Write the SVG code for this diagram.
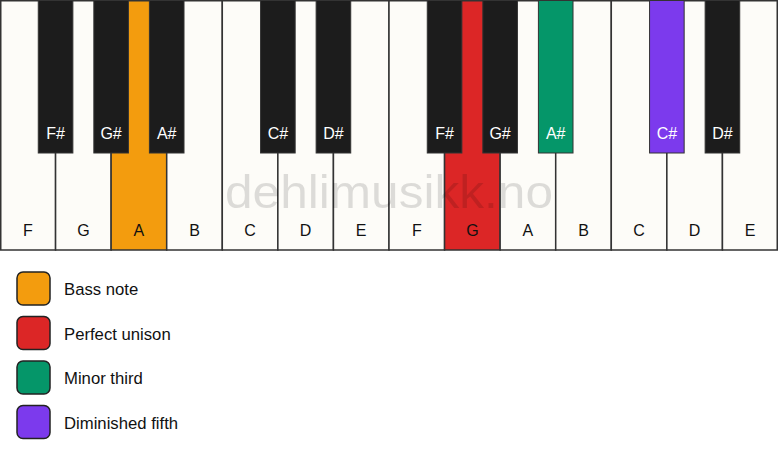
<svg xmlns="http://www.w3.org/2000/svg" width="778" height="461" viewBox="0 0 778 461">
<style>
.w{fill:#fdfcf8;stroke:#333;stroke-width:1.5}
.b{fill:#1c1c1c;stroke:#333;stroke-width:1}
.lw{font-family:"Liberation Sans",Arial,sans-serif;font-size:16px;fill:#111;text-anchor:middle}
.lb{font-family:"Liberation Sans",Arial,sans-serif;font-size:16px;fill:#fff;text-anchor:middle}
.lg{font-family:"Liberation Sans",Arial,sans-serif;font-size:16.7px;fill:#111}
.sq{stroke:#222;stroke-width:1.5}
</style>
<rect x="0" y="0" width="778" height="461" fill="#ffffff"/>
<g id="white-keys">
<rect class="w" x="0.75" y="0.75" width="54.82" height="249.25"/>
<rect class="w" x="55.57" y="0.75" width="55.57" height="249.25"/>
<rect class="w" x="111.14" y="0.75" width="55.57" height="249.25" style="fill:#f39c0e"/>
<rect class="w" x="166.71" y="0.75" width="55.57" height="249.25"/>
<rect class="w" x="222.29" y="0.75" width="55.57" height="249.25"/>
<rect class="w" x="277.86" y="0.75" width="55.57" height="249.25"/>
<rect class="w" x="333.43" y="0.75" width="55.57" height="249.25"/>
<rect class="w" x="389" y="0.75" width="55.57" height="249.25"/>
<rect class="w" x="444.57" y="0.75" width="55.57" height="249.25" style="fill:#dc2626"/>
<rect class="w" x="500.14" y="0.75" width="55.57" height="249.25"/>
<rect class="w" x="555.71" y="0.75" width="55.57" height="249.25"/>
<rect class="w" x="611.29" y="0.75" width="55.57" height="249.25"/>
<rect class="w" x="666.86" y="0.75" width="55.57" height="249.25"/>
<rect class="w" x="722.43" y="0.75" width="54.82" height="249.25"/>
</g>
<g id="white-labels">
<text class="lw" x="27.8" y="236">F</text>
<text class="lw" x="83.4" y="236">G</text>
<text class="lw" x="138.9" y="236">A</text>
<text class="lw" x="194.5" y="236">B</text>
<text class="lw" x="250.1" y="236">C</text>
<text class="lw" x="305.6" y="236">D</text>
<text class="lw" x="361.2" y="236">E</text>
<text class="lw" x="416.8" y="236">F</text>
<text class="lw" x="472.4" y="236">G</text>
<text class="lw" x="527.9" y="236">A</text>
<text class="lw" x="583.5" y="236">B</text>
<text class="lw" x="639.1" y="236">C</text>
<text class="lw" x="694.6" y="236">D</text>
<text class="lw" x="750.2" y="236">E</text>
</g>
<g id="black-keys">
<rect class="b" x="38.27" y="0.5" width="34.6" height="152.5"/>
<rect class="b" x="93.84" y="0.5" width="34.6" height="152.5"/>
<rect class="b" x="149.41" y="0.5" width="34.6" height="152.5"/>
<rect class="b" x="260.56" y="0.5" width="34.6" height="152.5"/>
<rect class="b" x="316.13" y="0.5" width="34.6" height="152.5"/>
<rect class="b" x="427.27" y="0.5" width="34.6" height="152.5"/>
<rect class="b" x="482.84" y="0.5" width="34.6" height="152.5"/>
<rect class="b" x="538.41" y="0.5" width="34.6" height="152.5" style="fill:#059669"/>
<rect class="b" x="649.56" y="0.5" width="34.6" height="152.5" style="fill:#7c3aed"/>
<rect class="b" x="705.13" y="0.5" width="34.6" height="152.5"/>
</g>
<g id="black-labels">
<text class="lb" x="55.6" y="139">F#</text>
<text class="lb" x="111.1" y="139">G#</text>
<text class="lb" x="166.7" y="139">A#</text>
<text class="lb" x="277.9" y="139">C#</text>
<text class="lb" x="333.4" y="139">D#</text>
<text class="lb" x="444.6" y="139">F#</text>
<text class="lb" x="500.1" y="139">G#</text>
<text class="lb" x="555.7" y="139">A#</text>
<text class="lb" x="666.9" y="139">C#</text>
<text class="lb" x="722.4" y="139">D#</text>
</g>
<text id="watermark" x="389" y="208" font-family="Liberation Sans,Arial,sans-serif" font-size="47" text-anchor="middle" textLength="328" lengthAdjust="spacingAndGlyphs" fill="#000" fill-opacity="0.13">dehlimusikk.no</text>
<g id="legend">
<g id="legend-bass"><rect class="sq" x="17" y="272" width="33" height="33" rx="6" fill="#f39c0e"/><text class="lg" x="64" y="295">Bass note</text></g>
<g id="legend-unison"><rect class="sq" x="17" y="316.5" width="33" height="33" rx="6" fill="#dc2626"/><text class="lg" x="64" y="339.5">Perfect unison</text></g>
<g id="legend-third"><rect class="sq" x="17" y="361" width="33" height="33" rx="6" fill="#059669"/><text class="lg" x="64" y="384">Minor third</text></g>
<g id="legend-fifth"><rect class="sq" x="17" y="405.5" width="33" height="33" rx="6" fill="#7c3aed"/><text class="lg" x="64" y="428.5">Diminished fifth</text></g>
</g>
</svg>
